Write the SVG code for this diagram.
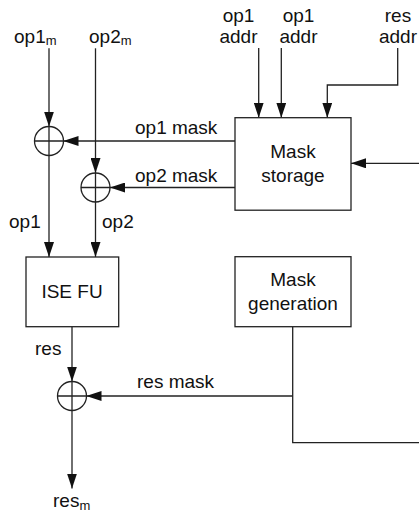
<svg xmlns="http://www.w3.org/2000/svg" width="419" height="514" viewBox="0 0 419 514">
<style>
  text { font-family: "Liberation Sans", Arial, sans-serif; font-size: 19px; fill: #111; }
  .sub { font-size: 13px; }
  .box { fill: #fff; stroke: #222; stroke-width: 1.3; }
  .ln { fill: none; stroke: #222; stroke-width: 1.3; }
  .arr { fill: none; stroke: #222; stroke-width: 1.3; marker-end: url(#ah); }
  .xor { fill: none; stroke: #222; stroke-width: 1.3; }
</style>
<defs>
  <marker id="ah" markerUnits="userSpaceOnUse" markerWidth="15" markerHeight="10" refX="15" refY="5" orient="auto">
    <path d="M0,0 L15,5 L0,10 z" fill="#111"/>
  </marker>
</defs>
<rect width="419" height="514" fill="#fff"/>

<g id="connectors">
  <path class="arr" d="M49,48.3 V126.5"/>
  <path class="arr" d="M49,155.5 V257"/>
  <path class="arr" d="M95.5,48.3 V173"/>
  <path class="arr" d="M95.5,202 V257"/>
  <path class="arr" d="M235,141 H63.5"/>
  <path class="arr" d="M235,187.5 H110"/>
  <path class="arr" d="M72,326.7 V381.5"/>
  <path class="arr" d="M72,410.5 V488.5"/>
  <path class="arr" d="M292.7,396 H86.5"/>
  <path class="ln" d="M292.7,326.7 V442.7 H419"/>
  <path class="arr" d="M419,163.3 H351"/>
  <path class="arr" d="M258.7,48 V117.7"/>
  <path class="arr" d="M281.3,48 V117.7"/>
  <path class="arr" d="M397.7,48 V85 H327.3 V117.7"/>
</g>

<g id="xor1">
  <circle class="xor" cx="49" cy="141" r="14.5"/>
  <path class="ln" d="M34.5,141 H63.5 M49,126.5 V155.5"/>
</g>
<g id="xor2">
  <circle class="xor" cx="95.5" cy="187.5" r="14.5"/>
  <path class="ln" d="M81,187.5 H110 M95.5,173 V202"/>
</g>
<g id="xor3">
  <circle class="xor" cx="72" cy="396" r="14.5"/>
  <path class="ln" d="M57.5,396 H86.5 M72,381.5 V410.5"/>
</g>

<g id="ise-fu">
  <rect class="box" x="26" y="257" width="92.7" height="69.7"/>
  <text x="72" y="298" text-anchor="middle">ISE FU</text>
</g>
<g id="mask-storage">
  <rect class="box" x="235" y="117.7" width="116" height="92.5"/>
  <text x="293" y="158" text-anchor="middle">Mask</text>
  <text x="293" y="182" text-anchor="middle">storage</text>
</g>
<g id="mask-generation">
  <rect class="box" x="235" y="256.7" width="116" height="70"/>
  <text x="293" y="286" text-anchor="middle">Mask</text>
  <text x="293" y="310" text-anchor="middle">generation</text>
</g>

<g id="labels">
  <text x="14" y="42.7">op1<tspan class="sub" dy="2.5">m</tspan></text>
  <text x="89" y="42.7">op2<tspan class="sub" dy="2.5">m</tspan></text>
  <text x="9" y="228.3">op1</text>
  <text x="102" y="228.3">op2</text>
  <text x="135" y="134">op1 mask</text>
  <text x="135" y="181.5">op2 mask</text>
  <text x="35" y="355">res</text>
  <text x="137" y="388.3">res mask</text>
  <text x="53" y="507">res<tspan class="sub" dy="2.5">m</tspan></text>
  <text x="238.5" y="21.5" text-anchor="middle">op1</text>
  <text x="238.5" y="43.3" text-anchor="middle">addr</text>
  <text x="298.5" y="21.5" text-anchor="middle">op1</text>
  <text x="298.5" y="43.3" text-anchor="middle">addr</text>
  <text x="398" y="21.5" text-anchor="middle">res</text>
  <text x="398" y="43.3" text-anchor="middle">addr</text>
</g>
</svg>
